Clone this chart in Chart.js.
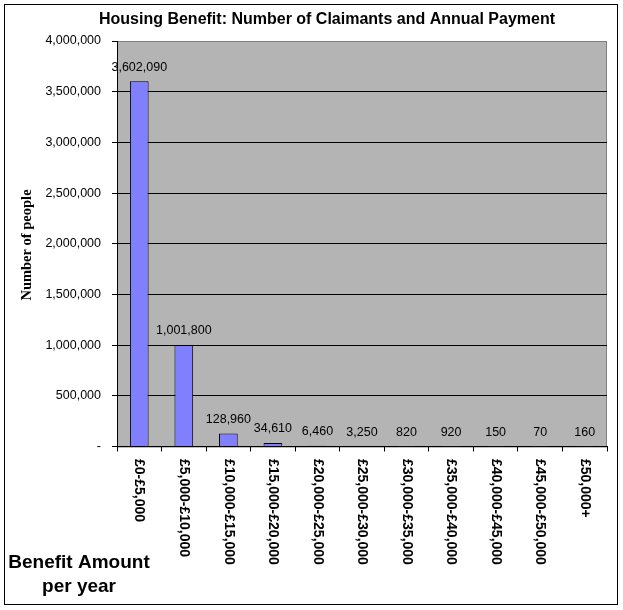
<!DOCTYPE html>
<html>
<head>
<meta charset="utf-8">
<script src="https://cdn.jsdelivr.net/npm/chart.js@4/dist/chart.umd.min.js"></script>
<style>
  html, body { margin: 0; padding: 0; background: #fff; }
  canvas { display: block; }
</style>
</head>
<body>
<canvas id="hbChart" width="623" height="610"></canvas>
<script>
// Data
const bands = ['£0-£5,000', '£5,000-£10,000', '£10,000-£15,000', '£15,000-£20,000',
  '£20,000-£25,000', '£25,000-£30,000', '£30,000-£35,000', '£35,000-£40,000',
  '£40,000-£45,000', '£45,000-£50,000', '£50,000+'];
const claimants = [3602090, 1001800, 128960, 34610, 6460, 3250, 820, 920, 150, 70, 160];
const yTicks = [0, 500000, 1000000, 1500000, 2000000, 2500000, 3000000, 3500000, 4000000];

const chartTitle = 'Housing Benefit: Number of Claimants and Annual Payment';
const yTitle = 'Number of people';
const xTitleLines = ['Benefit Amount', 'per year'];

const fmt = v => v.toLocaleString('en-US');

// frame, plot background, extra texts
const decor = {
  id: 'decor',
  beforeDraw(chart) {
    const { ctx, chartArea: a } = chart;
    ctx.save();
    ctx.fillStyle = '#fff';
    ctx.fillRect(0, 0, chart.width, chart.height);
    ctx.strokeStyle = '#000';
    ctx.lineWidth = 1;
    ctx.strokeRect(4.5, 4.5, 613, 600);
    ctx.fillStyle = '#b4b4b4';
    ctx.fillRect(a.left, a.top, a.right - a.left, a.bottom - a.top);
    ctx.strokeStyle = '#808080';
    ctx.strokeRect(a.left + 0.5, a.top + 0.5, a.right - a.left - 1, a.bottom - a.top);
    ctx.restore();
  },
  afterDraw(chart) {
    const { ctx } = chart;
    const x = chart.scales.x;
    ctx.save();
    ctx.fillStyle = '#000';
    ctx.textBaseline = 'middle';

    ctx.textAlign = 'center';
    ctx.font = 'bold 16px "Liberation Sans", Arial, sans-serif';
    ctx.fillText(chartTitle, 327, 20);

    ctx.font = 'bold 19px "Liberation Sans", Arial, sans-serif';
    ctx.fillText(xTitleLines[0], 79, 563);
    ctx.fillText(xTitleLines[1], 79, 587);

    ctx.save();
    ctx.translate(27.5, 245);
    ctx.rotate(-Math.PI / 2);
    ctx.font = 'bold 14.5px "Liberation Serif", "Times New Roman", serif';
    ctx.fillText(yTitle, 0, 0);
    ctx.restore();

    // category labels, rotated clockwise
    ctx.font = 'bold 14px "Liberation Sans", Arial, sans-serif';
    ctx.textAlign = 'left';
    bands.forEach((b, i) => {
      ctx.save();
      ctx.translate(x.getPixelForTick(i), 459);
      ctx.rotate(Math.PI / 2);
      ctx.fillText(b, 0, 0);
      ctx.restore();
    });
    ctx.restore();
  },
  afterDatasetsDraw(chart) {
    const { ctx } = chart;
    const meta = chart.getDatasetMeta(0);
    ctx.save();
    ctx.fillStyle = '#000';
    ctx.font = '12.5px "Liberation Sans", Arial, sans-serif';
    ctx.textAlign = 'center';
    ctx.textBaseline = 'middle';
    meta.data.forEach((bar, i) => {
      ctx.fillText(fmt(claimants[i]), bar.x, bar.y - 14);
    });
    ctx.restore();
  }
};

new Chart(document.getElementById('hbChart'), {
  type: 'bar',
  data: {
    labels: bands,
    datasets: [{
      label: 'Number of people',
      data: claimants,
      backgroundColor: '#8080ff',
      borderColor: '#000',
      borderWidth: 1,
      categoryPercentage: 1,
      barPercentage: 0.42
    }]
  },
  options: {
    responsive: false,
    animation: false,
    devicePixelRatio: 1,
    layout: { padding: { left: 0, top: 41, right: 16, bottom: 0 } },
    plugins: {
      legend: { display: false },
      tooltip: { enabled: false },
      title: { display: false }
    },
    scales: {
      x: {
        offset: true,
        grid: {
          offset: true,
          drawOnChartArea: false,
          drawTicks: true,
          tickLength: 5,
          color: '#000'
        },
        border: { color: '#000', width: 1 },
        ticks: { display: false },
        afterFit(scale) { scale.height = 163.5; }
      },
      y: {
        min: 0,
        max: 4000000,
        afterBuildTicks(scale) { scale.ticks = yTicks.map(v => ({ value: v })); },
        grid: {
          color: ctx => (ctx.tick && ctx.tick.value === 4000000 ? '#808080' : '#000'),
          tickColor: '#000',
          tickLength: 5,
          lineWidth: 1
        },
        border: { color: '#000', width: 1 },
        ticks: {
          color: '#000',
          padding: 11,
          font: { family: '"Liberation Sans", Arial, sans-serif', size: 12.5 },
          callback: v => (v === 0 ? '-' : fmt(v))
        },
        afterFit(scale) { scale.width = 117; }
      }
    }
  },
  plugins: [decor]
});
</script>
</body>
</html>
